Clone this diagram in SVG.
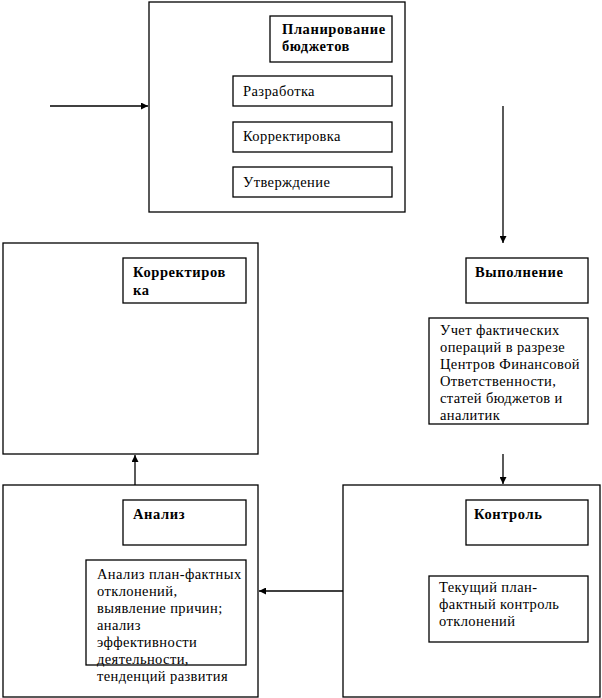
<svg xmlns="http://www.w3.org/2000/svg" width="602" height="698" viewBox="0 0 602 698">
<defs>
<style>
rect{fill:#fff;stroke:#000;stroke-width:1.3}
text{font-family:"Liberation Serif","Times New Roman",serif;font-size:14.5px;letter-spacing:0.4px;fill:#000}
.b{font-weight:bold;letter-spacing:0.6px}
.c{fill:none;stroke:#000;stroke-width:1.3}
</style>
<marker id="ah" viewBox="0 0 10 10" refX="10" refY="5" markerWidth="7" markerHeight="7" markerUnits="userSpaceOnUse" orient="auto">
<path d="M0,0 L10,5 L0,10 Z" fill="#000"/>
</marker>
</defs>
<rect x="0" y="0" width="602" height="698" style="fill:#fff;stroke:none"/>
<g id="planning">
<rect x="149" y="2" width="256" height="210"/>
<rect x="270" y="16" width="122" height="46"/>
<text class="b" x="282" y="34">Планирование</text>
<text class="b" x="282" y="51">бюджетов</text>
<rect x="233" y="76" width="159" height="30"/>
<text x="243" y="96">Разработка</text>
<rect x="233" y="122" width="159" height="30"/>
<text x="243" y="141">Корректировка</text>
<rect x="233" y="167" width="159" height="30"/>
<text x="243" y="187">Утверждение</text>
</g>
<g id="correction">
<rect x="3" y="243" width="255" height="211"/>
<rect x="123" y="258" width="123" height="45"/>
<text class="b" x="133" y="277">Корректиров</text>
<text class="b" x="133" y="295">ка</text>
</g>
<g id="execution">
<rect x="466" y="258" width="122" height="45"/>
<text class="b" x="475" y="277">Выполнение</text>
<rect x="429" y="318" width="159" height="106"/>
<text x="440" y="335">Учет фактических</text>
<text x="440" y="352">операций в разрезе</text>
<text x="440" y="369">Центров Финансовой</text>
<text x="440" y="386">Ответственности,</text>
<text x="440" y="403">статей бюджетов и</text>
<text x="440" y="420">аналитик</text>
</g>
<g id="analysis">
<rect x="3" y="485" width="255" height="212"/>
<rect x="123" y="500" width="123" height="45"/>
<text class="b" x="133" y="519">Анализ</text>
<rect x="86" y="560" width="160" height="105"/>
<text x="97" y="579">Анализ план-фактных</text>
<text x="97" y="596">отклонений,</text>
<text x="97" y="613">выявление причин;</text>
<text x="97" y="630">анализ</text>
<text x="97" y="647">эффективности</text>
<text x="97" y="664">деятельности,</text>
<text x="97" y="681">тенденций развития</text>
</g>
<g id="control">
<rect x="343" y="485" width="257" height="212"/>
<rect x="466" y="500" width="122" height="45"/>
<text class="b" x="474" y="519">Контроль</text>
<rect x="429" y="576" width="159" height="66"/>
<text x="439" y="592">Текущий план-</text>
<text x="439" y="609">фактный контроль</text>
<text x="439" y="626">отклонений</text>
</g>
<g id="connectors">
<line class="c" x1="50" y1="106" x2="148" y2="106" marker-end="url(#ah)"/>
<line class="c" x1="503" y1="106" x2="503" y2="243" marker-end="url(#ah)"/>
<line class="c" x1="503" y1="454" x2="503" y2="484" marker-end="url(#ah)"/>
<line class="c" x1="343" y1="591" x2="259" y2="591" marker-end="url(#ah)"/>
<line class="c" x1="135" y1="485" x2="135" y2="455" marker-end="url(#ah)"/>
</g>
</svg>
